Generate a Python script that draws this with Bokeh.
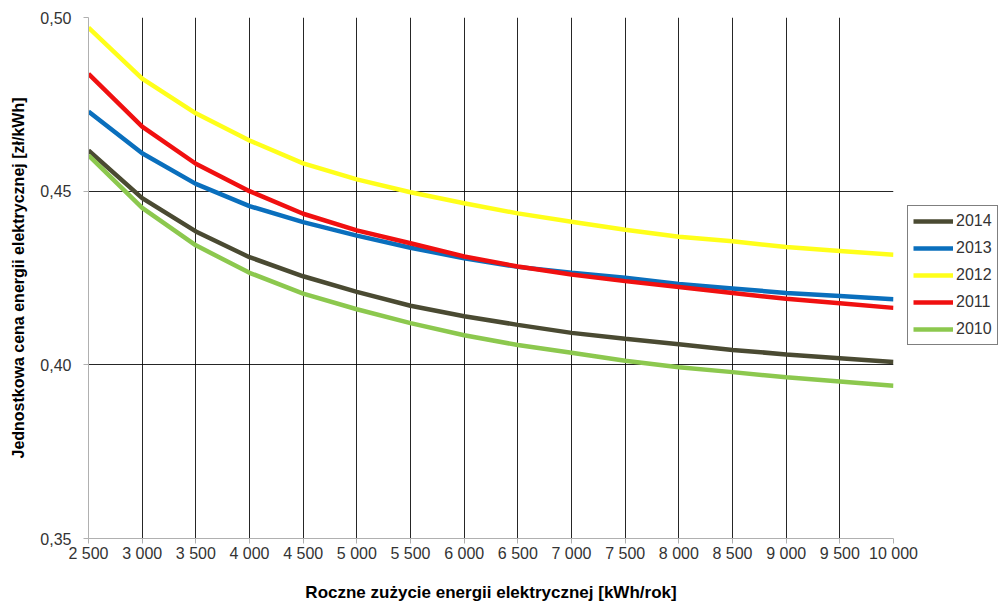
from bokeh.plotting import figure
from bokeh.models import FixedTicker, Legend, LegendItem, Range1d
from bokeh.embed import file_html
from bokeh.resources import INLINE

x = [2500, 3000, 3500, 4000, 4500, 5000, 5500, 6000, 6500, 7000, 7500, 8000, 8500, 9000, 9500, 10000]
y2014 = [0.4617, 0.4480, 0.4384, 0.4310, 0.4255, 0.4210, 0.4170, 0.4140, 0.4115, 0.4092, 0.4075, 0.4059, 0.4043, 0.4030, 0.4019, 0.4008]
y2013 = [0.4729, 0.4609, 0.4521, 0.4457, 0.4411, 0.4372, 0.4337, 0.4307, 0.4282, 0.4265, 0.4251, 0.4233, 0.4220, 0.4207, 0.4198, 0.4189]
y2012 = [0.4971, 0.4824, 0.4724, 0.4646, 0.4580, 0.4534, 0.4497, 0.4465, 0.4436, 0.4412, 0.4389, 0.4369, 0.4356, 0.4339, 0.4328, 0.4317]
y2011 = [0.4838, 0.4686, 0.4579, 0.4500, 0.4435, 0.4387, 0.4350, 0.4312, 0.4283, 0.4260, 0.4241, 0.4224, 0.4207, 0.4190, 0.4177, 0.4164]
y2010 = [0.4603, 0.4452, 0.4344, 0.4265, 0.4205, 0.4160, 0.4120, 0.4085, 0.4057, 0.4035, 0.4012, 0.3993, 0.3979, 0.3964, 0.3952, 0.3940]

series_names = ["2014", "2013", "2012", "2011", "2010"]
series_vals = [y2014, y2013, y2012, y2011, y2010]
series_colors = ["#4a4a32", "#0a6fbd", "#ffff1a", "#f01010", "#8cc84e"]

x_ticks = list(range(2500, 10001, 500))
x_labels = {t: f"{t:,}".replace(",", " ") for t in x_ticks}
y_ticks = [0.35, 0.40, 0.45, 0.50]
y_labels = {0.35: "0,35", 0.40: "0,40", 0.45: "0,45", 0.50: "0,50"}

p = figure(frame_width=805, frame_height=521, output_backend="svg", toolbar_location=None,
           x_range=Range1d(2500, 10000), y_range=Range1d(0.35, 0.50),
           min_border_left=88, min_border_right=105, min_border_top=17, min_border_bottom=63)
p.outline_line_color = None

renderers = []
for name, vals, col in zip(series_names, series_vals, series_colors):
    r = p.line(x, vals, line_color=col, line_width=4.5)
    renderers.append((name, r))

font = "Liberation Sans"
p.xaxis.ticker = FixedTicker(ticks=x_ticks)
p.yaxis.ticker = FixedTicker(ticks=y_ticks)
p.xaxis.major_label_overrides = x_labels
p.yaxis.major_label_overrides = y_labels
for ax in (p.xaxis, p.yaxis):
    ax.axis_line_color = "#b0b0b0"
    ax.major_tick_line_color = "#b0b0b0"
    ax.minor_tick_line_color = None
    ax.major_tick_out = 5
    ax.major_tick_in = 0
    ax.major_label_text_font = font
    ax.major_label_text_font_size = "16px"
    ax.major_label_text_color = "#333333"
    ax.axis_label_text_font = font
    ax.axis_label_text_font_style = "bold"
    ax.axis_label_text_color = "#000000"
p.xaxis.axis_label = "Roczne zużycie energii elektrycznej [kWh/rok]"
p.yaxis.axis_label = "Jednostkowa cena energii elektrycznej [zł/kWh]"
p.xaxis.axis_label_text_font_size = "17px"
p.yaxis.axis_label_text_font_size = "16px"
p.xaxis.axis_label_standoff = 18
p.yaxis.axis_label_standoff = 10
p.xaxis.major_label_standoff = 1
p.yaxis.major_label_standoff = 12

p.xgrid.ticker = FixedTicker(ticks=x_ticks[1:])
p.ygrid.ticker = FixedTicker(ticks=[0.40, 0.45, 0.50])
p.xgrid.grid_line_color = "#000000"
p.ygrid.grid_line_color = "#000000"
p.xgrid.grid_line_width = 1
p.ygrid.grid_line_width = 1
p.xgrid.grid_line_alpha = 0.85
p.ygrid.grid_line_alpha = 0.85

legend = Legend(items=[LegendItem(label=n, renderers=[r]) for n, r in renderers],
                location=(14, 193))
legend.label_text_font = font
legend.label_text_font_size = "16px"
legend.label_text_color = "#333333"
legend.glyph_width = 40
legend.glyph_height = 20
legend.label_height = 20
legend.spacing = 7
legend.padding = 5
legend.margin = 0
legend.label_standoff = 3
legend.border_line_color = "#000000"
legend.border_line_width = 1
legend.background_fill_alpha = 1
p.add_layout(legend, "right")

open("out.html", "w").write(file_html(p, INLINE))
